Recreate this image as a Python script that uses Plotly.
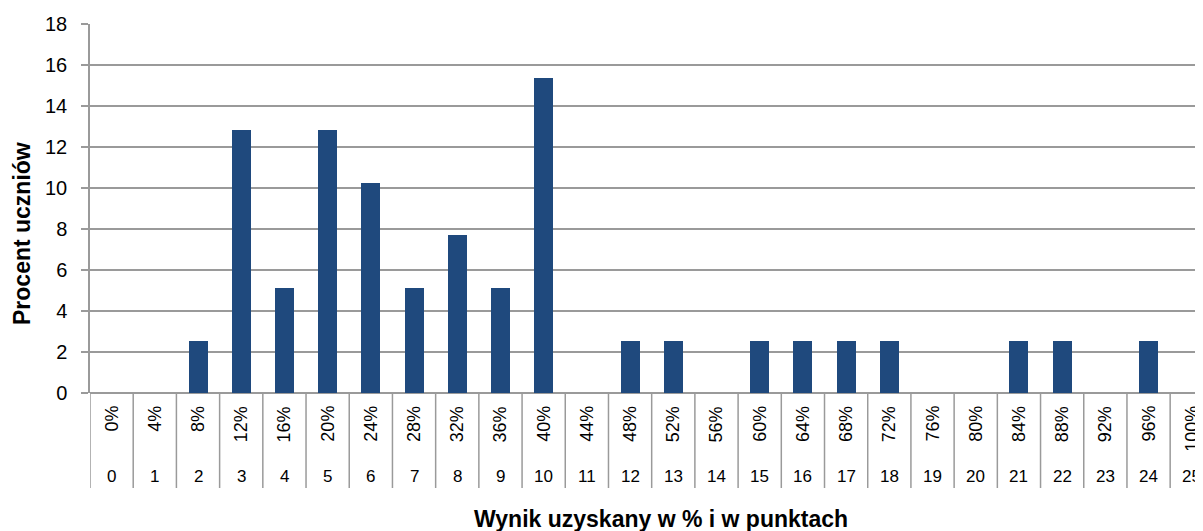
import plotly.graph_objects as go

points = list(range(26))
percent_labels = [f"{p * 4}%" for p in points]
point_labels = [str(p) for p in points]
values = [0, 0, 2.56, 12.82, 5.13, 12.82, 10.26, 5.13, 7.69, 5.13, 15.38, 0, 2.56, 2.56,
          0, 2.56, 2.56, 2.56, 2.56, 0, 0, 2.56, 2.56, 0, 2.56, 0]
y_title = "Procent uczniów"
x_title = "Wynik uzyskany w % i w punktach"

FONT = "Liberation Sans, Arial, sans-serif"
GRID = "#9a9a9a"

# page body has an 8px margin: work in screen pixels, convert to figure pixels
OFF = 8
W, H = 1203 - OFF, 531 - OFF
L, R, T, B = 90 - OFF, 0, 24 - OFF, 531 - 393
ph = H - T - B
pw = W - L - R


def py(pix):
    return (393 - pix) / ph


def px(pix):
    return (pix - 90) / pw


fig = go.Figure()
fig.add_trace(go.Bar(x=points, y=values, width=0.44,
                     marker=dict(color="#1F497D", line=dict(width=0)),
                     hoverinfo="x+y"))

annotations = []
for p, pl, nl in zip(points, percent_labels, point_labels):
    annotations.append(dict(x=p, y=py(404), xref="x", yref="paper", text=pl,
                            textangle=-90, showarrow=False, xanchor="center",
                            yanchor="top", font=dict(family=FONT, size=18, color="#000")))
    annotations.append(dict(x=p, y=py(477), xref="x", yref="paper", text=nl,
                            showarrow=False, xanchor="center", yanchor="middle",
                            font=dict(family=FONT, size=17, color="#000")))

annotations.append(dict(x=px(22), y=py(234), xref="paper", yref="paper",
                        text=f"<b>{y_title}</b>", textangle=-90, showarrow=False,
                        xanchor="center", yanchor="middle",
                        font=dict(family=FONT, size=23, color="#000")))
annotations.append(dict(x=px(661), y=py(519), xref="paper", yref="paper",
                        text=f"<b>{x_title}</b>", showarrow=False,
                        xanchor="center", yanchor="middle",
                        font=dict(family=FONT, size=23, color="#000")))

shapes = []
for k in range(len(points) + 1):
    shapes.append(dict(type="line", xref="x", yref="paper", x0=k - 0.5, x1=k - 0.5,
                       y0=0, y1=py(488), line=dict(color=GRID, width=1.5)))

fig.update_layout(
    width=W, height=H,
    margin=dict(l=L, r=R, t=T, b=B),
    paper_bgcolor="white", plot_bgcolor="white",
    showlegend=False, bargap=0,
    annotations=annotations, shapes=shapes,
    font=dict(family=FONT, color="#000"),
    xaxis=dict(range=[-0.5, 25.26], showticklabels=False, showgrid=False,
               zeroline=False, showline=False, ticks=""),
    yaxis=dict(range=[0, 18], dtick=2, tick0=0, showgrid=True, gridcolor=GRID,
               gridwidth=1.5, zeroline=True, zerolinecolor=GRID, zerolinewidth=1.5,
               showline=True, linecolor=GRID, linewidth=1.5,
               ticks="outside", ticklen=7, tickcolor=GRID, tickwidth=1.5,
               ticklabelstandoff=10,
               tickfont=dict(family=FONT, size=20, color="#000")),
)

fig.write_html("out.html")
